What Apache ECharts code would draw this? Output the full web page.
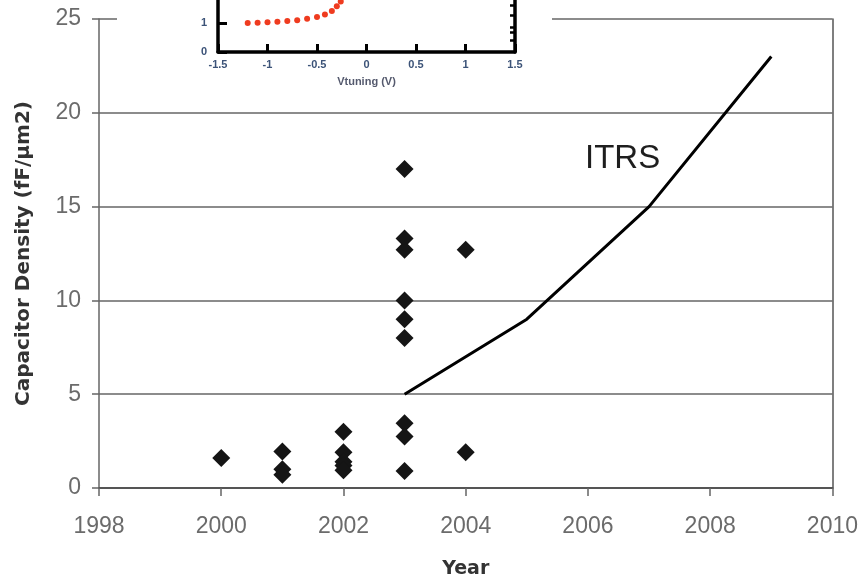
<!DOCTYPE html>
<html>
<head>
<meta charset="utf-8">
<script src="https://cdn.jsdelivr.net/npm/echarts@6/dist/echarts.min.js"></script>
<style>
  html, body { margin: 0; padding: 0; background: #fff; }
  #chart { width: 861px; height: 584px; }
</style>
</head>
<body>
<div id="chart"></div>
<script>
// Reported capacitor densities by year
const years = [2000, 2001, 2001, 2001, 2002, 2002, 2002, 2002, 2002, 2003, 2003, 2003, 2003, 2003, 2003, 2003, 2003, 2003, 2004, 2004];
const densities = [1.6, 1.95, 1.0, 0.7, 3.0, 1.9, 1.4, 1.2, 0.95, 17.0, 13.3, 12.7, 10.0, 9.0, 8.0, 3.45, 2.75, 0.9, 12.7, 1.9];

// ITRS roadmap
const itrsYears = [2003, 2005, 2007, 2009];
const itrsValues = [5, 9, 15, 23];

// Inset: C-V tuning curve
const vtuning = [-1.2, -1.1, -1.0, -0.9, -0.8, -0.7, -0.6, -0.5, -0.42, -0.35, -0.3, -0.26];
const capRatio = [1.0, 1.01, 1.03, 1.05, 1.07, 1.1, 1.15, 1.21, 1.3, 1.42, 1.58, 1.75];
const insetRightTicks = [0.41, 0.69, 0.86, 1.28, 1.62];

const tickFont = 'Liberation Sans, Arial, sans-serif';
const titleFont = 'DejaVu Sans, sans-serif';
const insetLabelColor = '#3c5378';

const chart = echarts.init(document.getElementById('chart'));
chart.setOption({
  animation: false,
  backgroundColor: '#ffffff',
  grid: [
    { left: 99, right: 26, top: 19, bottom: 90 },
    { left: 218, width: 297, top: 0, height: 52, z: 10 }
  ],
  xAxis: [
    {
      type: 'value', gridIndex: 0, min: 1998, max: 2010, interval: 2,
      name: 'Year', nameLocation: 'middle', nameGap: 72,
      nameTextStyle: { fontFamily: titleFont, fontSize: 19, fontWeight: 'bold', color: '#333' },
      axisLine: { show: true, onZero: false, lineStyle: { color: '#555', width: 2 } },
      axisTick: { show: true, length: 8, lineStyle: { color: '#666', width: 1.5 } },
      axisLabel: { margin: 27, fontFamily: tickFont, fontSize: 23, color: '#6b6b6b', formatter: v => String(v) },
      splitLine: { show: false }
    },
    {
      type: 'value', gridIndex: 1, min: -1.5, max: 1.5, interval: 0.5, z: 10,
      name: 'Vtuning (V)', nameLocation: 'middle', nameGap: 24,
      nameTextStyle: { fontFamily: tickFont, fontSize: 11, fontWeight: 'bold', color: '#555a6e' },
      axisLine: { show: true, onZero: false, lineStyle: { color: '#000', width: 3.5 } },
      axisTick: { show: true, inside: true, length: 8, lineStyle: { color: '#000', width: 3 } },
      axisLabel: { margin: 7, fontFamily: tickFont, fontSize: 11, fontWeight: 'bold', color: insetLabelColor },
      splitLine: { show: false }
    }
  ],
  yAxis: [
    {
      type: 'value', gridIndex: 0, min: 0, max: 25, interval: 5,
      name: 'Capacitor Density (fF/\u03bcm2)', nameLocation: 'middle', nameGap: 65,
      nameTextStyle: { fontFamily: titleFont, fontSize: 20, fontWeight: 'bold', color: '#333' },
      axisLine: { show: true, lineStyle: { color: '#666', width: 1.5 } },
      axisTick: { show: true, length: 7, lineStyle: { color: '#666', width: 1.5 } },
      axisLabel: { margin: 18, fontFamily: tickFont, fontSize: 23, color: '#6b6b6b' },
      splitLine: { show: true, lineStyle: { color: '#666', width: 1.6 } }
    },
    {
      type: 'value', gridIndex: 0, position: 'right', min: 0, max: 25, interval: 5,
      axisLine: { show: true, lineStyle: { color: '#555', width: 1.5 } },
      axisTick: { show: false }, axisLabel: { show: false }, splitLine: { show: false }
    },
    {
      type: 'value', gridIndex: 1, min: 0, max: 1.8, interval: 1, z: 10,
      axisLine: { show: true, onZero: false, lineStyle: { color: '#000', width: 3.5 } },
      axisTick: { show: true, inside: true, length: 9, customValues: [0, 1], lineStyle: { color: '#000', width: 3 } },
      axisLabel: {
        margin: 11, fontFamily: tickFont, fontSize: 11, fontWeight: 'bold', color: insetLabelColor,
        customValues: [0, 1],
        formatter: v => (Math.abs(v - Math.round(v)) < 1e-9 ? String(Math.round(v)) : '')
      },
      splitLine: { show: false }
    },
    {
      type: 'value', gridIndex: 1, position: 'right', min: 0, max: 1.8, z: 10,
      axisLine: { show: true, onZero: false, lineStyle: { color: '#000', width: 3.5 } },
      axisTick: { show: true, inside: true, length: 5, customValues: insetRightTicks, lineStyle: { color: '#000', width: 2.5 } },
      axisLabel: { show: false },
      splitLine: { show: false }
    }
  ],
  graphic: [
    {
      type: 'rect', z: 5,
      shape: { x: 117, y: 0, width: 435, height: 95 },
      style: { fill: '#ffffff' }
    },
    {
      type: 'text', z: 5, left: 585, top: 142,
      style: { text: 'ITRS', font: '33px Liberation Sans, Arial, sans-serif', fill: '#1e1e1e' }
    }
  ],
  series: [
    {
      type: 'scatter', xAxisIndex: 0, yAxisIndex: 0,
      symbol: 'diamond', symbolSize: 18,
      itemStyle: { color: '#151515', opacity: 1 },
      data: years.map((y, i) => [y, densities[i]])
    },
    {
      type: 'line', xAxisIndex: 0, yAxisIndex: 0,
      showSymbol: false, symbol: 'none',
      lineStyle: { color: '#000', width: 3 },
      data: itrsYears.map((y, i) => [y, itrsValues[i]])
    },
    {
      type: 'scatter', xAxisIndex: 1, yAxisIndex: 2, z: 12,
      symbol: 'circle', symbolSize: 6,
      itemStyle: { color: '#ef3b1f', opacity: 1 },
      data: vtuning.map((v, i) => [v, capRatio[i]])
    }
  ]
});
</script>
</body>
</html>
